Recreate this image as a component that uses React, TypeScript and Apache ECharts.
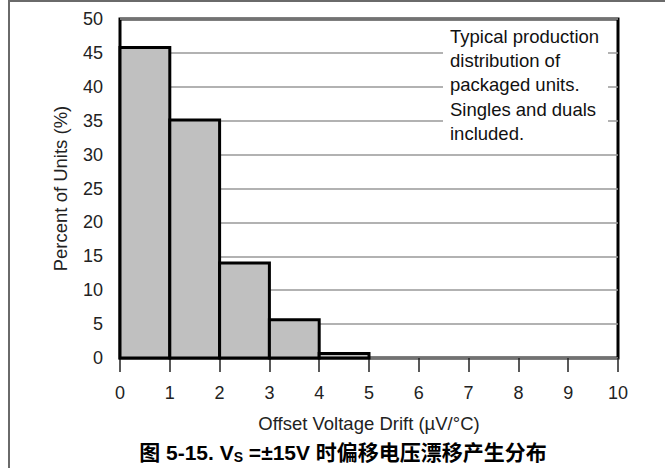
import React, { useEffect, useRef } from "react";
import * as echarts from "echarts";

const binStarts = [0, 1, 2, 3, 4];
const binEnds = [1, 2, 3, 4, 5];
const percentValues = [45.8, 35.1, 14.0, 5.65, 0.65];
const xTicks = [0, 1, 2, 3, 4, 5, 6, 7, 8, 9, 10];
const noteLines = [
  "Typical production",
  "distribution of",
  "packaged units.",
  "Singles and duals",
  "included.",
];

const FONT = "'Liberation Sans', Arial, 'Noto Sans CJK SC', sans-serif";

export default function App() {
  const ref = useRef<HTMLDivElement>(null);
  useEffect(() => {
    if (!ref.current) return;
    const chart = echarts.init(ref.current, null, { renderer: "svg" });
    const data = binStarts.map((s, i) => [s, binEnds[i], percentValues[i]]);
    chart.setOption({
      animation: false,
      backgroundColor: "#fff",
      textStyle: { fontFamily: FONT },
      title: {
        text: "图 5-15. V{sub|S} =±15V 时偏移电压漂移产生分布",
        left: 338,
        textAlign: "center",
        top: 436,
        textStyle: {
          fontFamily: FONT,
          fontWeight: "bold",
          fontSize: 21,
          color: "#000",
          rich: {
            sub: {
              fontFamily: FONT,
              fontWeight: "bold",
              fontSize: 14,
              color: "#000",
              verticalAlign: "bottom",
              padding: [9, 0, 0, 0],
            },
          },
        },
      },
      grid: {
        left: 120,
        right: 47,
        top: 19,
        bottom: 110,
        show: true,
        borderColor: "#000",
        borderWidth: 3,
        backgroundColor: "transparent",
      },
      xAxis: {
        type: "value",
        min: 0,
        max: 10,
        interval: 1,
        name: "Offset Voltage Drift (µV/°C)",
        nameLocation: "middle",
        nameGap: 56,
        nameTextStyle: { fontFamily: FONT, fontSize: 18.5, color: "#222" },
        axisLine: { show: false },
        axisTick: {
          show: true,
          length: 14,
          lineStyle: { color: "#222", width: 1.5 },
        },
        axisLabel: {
          margin: 26,
          fontFamily: FONT,
          fontSize: 18,
          color: "#222",
          customValues: xTicks,
        },
        splitLine: { show: false },
      },
      yAxis: {
        type: "value",
        min: 0,
        max: 50,
        interval: 5,
        name: "Percent of Units (%)",
        nameLocation: "middle",
        nameGap: 50,
        nameTextStyle: { fontFamily: FONT, fontSize: 18.5, color: "#222" },
        axisLine: { show: false },
        axisTick: { show: false },
        axisLabel: { margin: 17, fontFamily: FONT, fontSize: 18, color: "#222" },
        splitLine: { show: true, lineStyle: { color: "#999", width: 1.5 } },
      },
      graphic: [
        {
          type: "line",
          shape: { x1: 8, y1: 1, x2: 665, y2: 1 },
          style: { stroke: "#6a6a6a", lineWidth: 2 },
        },
        {
          type: "line",
          shape: { x1: 9, y1: 0, x2: 9, y2: 468 },
          style: { stroke: "#6a6a6a", lineWidth: 2 },
        },
        {
          type: "rect",
          shape: { x: 443, y: 23, width: 165, height: 126 },
          style: { fill: "#fff" },
          z: 10,
        },
        {
          type: "text",
          x: 450,
          y: 24,
          z: 11,
          style: {
            text: noteLines.join("\n"),
            fontFamily: FONT,
            fontSize: 18.5,
            lineHeight: 24.3,
            fill: "#111",
          },
        },
      ],
      series: [
        {
          type: "custom",
          data,
          encode: { x: [0, 1], y: 2 },
          z: 5,
          renderItem: (params: any, api: any) => {
            const p0 = api.coord([api.value(0), api.value(2)]);
            const p1 = api.coord([api.value(1), 0]);
            return {
              type: "rect",
              shape: { x: p0[0], y: p0[1], width: p1[0] - p0[0], height: p1[1] - p0[1] },
              style: { fill: "#c0c0c0", stroke: "#000", lineWidth: 3 },
            };
          },
        },
      ],
    });
    return () => chart.dispose();
  }, []);
  return (
    <div
      ref={ref}
      style={{ position: "fixed", left: 0, top: 0, width: 665, height: 468 }}
    />
  );
}
